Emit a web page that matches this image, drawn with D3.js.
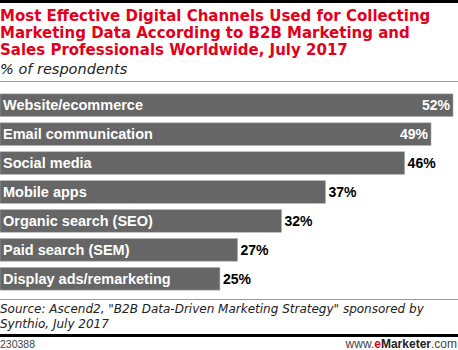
<!DOCTYPE html>
<html>
<head>
  <script src="https://d3js.org/d3.v7.min.js"></script>
  <style>
    body { margin: 0; background: #fff; }
  </style>
</head>
<body>
  <div id="chart"></div>
  <script>
    // chart values
    var channels = ["Website/ecommerce", "Email communication", "Social media", "Mobile apps",
                    "Organic search (SEO)", "Paid search (SEM)", "Display ads/remarketing"];
    var shares = [52, 49, 46, 37, 32, 27, 25];
    var titleLines = ["Most Effective Digital Channels Used for Collecting",
                      "Marketing Data According to B2B Marketing and",
                      "Sales Professionals Worldwide, July 2017"];
    var sourceLines = ["Source: Ascend2, \"B2B Data-Driven Marketing Strategy\" sponsored by",
                       "Synthio, July 2017"];

    var width = 458, height = 350;
    var data = channels.map((c, i) => ({name: c, value: shares[i]}));
    var barFont = "'Liberation Sans', Arial, sans-serif";

    var svg = d3.select("#chart").append("svg")
      .attr("width", width)
      .attr("height", height)
      .style("font-family", "'DejaVu Sans', sans-serif");

    // top rule
    svg.append("rect").attr("x", 0).attr("y", 0).attr("width", width).attr("height", 3).attr("fill", "#000");

    svg.selectAll(".title")
      .data(titleLines)
      .enter().append("text")
      .attr("x", 0)
      .attr("y", (d, i) => 21 + i * 17)
      .attr("fill", "#e2001a")
      .style("font-weight", "bold")
      .style("font-size", "15px")
      .text(d => d);

    svg.append("text")
      .attr("x", 0)
      .attr("y", 74)
      .attr("fill", "#222")
      .style("font-style", "italic")
      .style("font-size", "14.5px")
      .text("% of respondents");

    svg.append("line").attr("x1", 0).attr("x2", width).attr("y1", 81.5).attr("y2", 81.5)
      .attr("stroke", "#999").attr("stroke-width", 1);

    var x = d3.scaleLinear()
      .domain([0, 51.5])
      .range([0, 453])
      .clamp(true);

    var y = d3.scaleBand()
      .domain(channels)
      .range([91, 293])
      .paddingInner(0.22)
      .paddingOuter(0.1);

    var bars = svg.selectAll(".bar")
      .data(data)
      .enter().append("g")
      .attr("class", "bar");

    bars.append("rect")
      .attr("x", 0)
      .attr("y", d => y(d.name))
      .attr("width", d => x(d.value))
      .attr("height", y.bandwidth())
      .attr("fill", "#666")
      .attr("stroke", "#aaa")
      .attr("stroke-width", 0.6);

    bars.append("text")
      .attr("x", 3)
      .attr("y", d => y(d.name) + y.bandwidth() / 2 + 5)
      .attr("fill", "#fff")
      .style("font-family", barFont)
      .style("font-weight", "bold")
      .style("font-size", "14.5px")
      .text(d => d.name);

    // values: inside the long bars, outside the rest
    bars.append("text")
      .attr("x", d => d.value >= 49 ? x(d.value) - 3 : x(d.value) + 3)
      .attr("y", d => y(d.name) + y.bandwidth() / 2 + 5)
      .attr("text-anchor", d => d.value >= 49 ? "end" : "start")
      .attr("fill", d => d.value >= 49 ? "#fff" : "#000")
      .style("font-family", barFont)
      .style("font-weight", "bold")
      .style("font-size", "14px")
      .text(d => d.value + "%");

    svg.append("line").attr("x1", 0).attr("x2", width).attr("y1", 299.5).attr("y2", 299.5)
      .attr("stroke", "#999").attr("stroke-width", 1);

    svg.selectAll(".source")
      .data(sourceLines)
      .enter().append("text")
      .attr("x", 0)
      .attr("y", (d, i) => 313 + i * 15)
      .attr("fill", "#222")
      .style("font-style", "italic")
      .style("font-size", "12px")
      .text(d => d);

    svg.append("rect").attr("x", 0).attr("y", 334).attr("width", width).attr("height", 3).attr("fill", "#000");

    svg.append("text")
      .attr("x", 0)
      .attr("y", 348)
      .attr("fill", "#444")
      .style("font-family", barFont)
      .style("font-size", "10.5px")
      .text("230388");

    var brand = svg.append("text")
      .attr("x", 457)
      .attr("y", 348)
      .attr("text-anchor", "end")
      .attr("fill", "#444")
      .style("font-family", barFont)
      .style("font-size", "12px");
    brand.append("tspan").text("www.");
    brand.append("tspan").attr("fill", "#e2001a").style("font-weight", "bold").text("e");
    brand.append("tspan").attr("fill", "#222").style("font-weight", "bold").text("Marketer");
    brand.append("tspan").text(".com");
  </script>
</body>
</html>
